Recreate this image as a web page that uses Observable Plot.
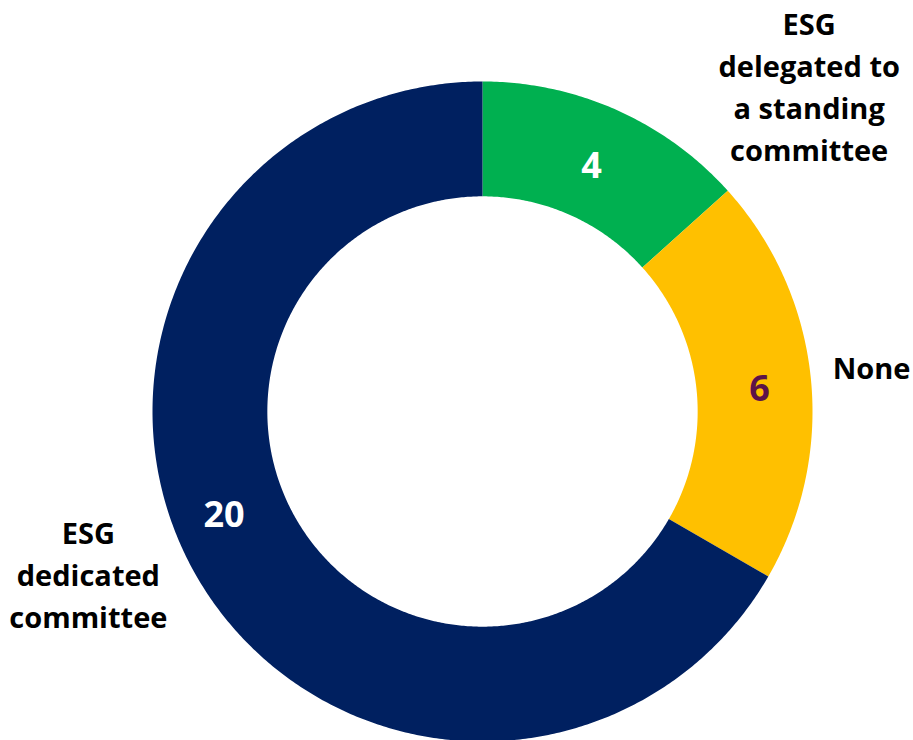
<!DOCTYPE html>
<html>
<head>
<meta charset="utf-8">
<script src="https://cdn.jsdelivr.net/npm/d3@7"></script>
<script src="https://cdn.jsdelivr.net/npm/@observablehq/plot@0.6"></script>
<style>
  html, body { margin: 0; padding: 0; background: #ffffff; }
  #chart svg { display: block; }
</style>
</head>
<body>
<div id="chart"></div>
<script>
// ---- data ----
const categories = ["ESG delegated to a standing committee", "None", "ESG dedicated committee"];
const values = [4, 6, 20];
const labelLines = [["ESG", "delegated to", "a standing", "committee"], ["None"], ["ESG", "dedicated", "committee"]];

// ---- style / layout ----
const sliceColors = ["#00B050", "#FFC000", "#002060"];
const valueColors = ["#ffffff", "#5C1349", "#ffffff"];
const innerRatio = 0.652;
const valueLabelRadius = [0.812, 0.842, 0.845];
const valueLabelShift = [0, 1.5, 8];        // degrees, manual nudges of the data labels
const catLabelShift = [21, -1.4, 7.8];      // degrees
const catLabelRadius = [1.40, 1.07, 1.29];
const catLabelAnchor = ["middle", "start", "middle"];
const fontFamily = "'Open Sans', 'Liberation Sans', sans-serif";

const W = 913, H = 740, R = 330, CX = 482, CY = 411;

const total = d3.sum(values);
let acc = 0;
const slices = values.map((v, i) => {
  const a0 = acc / total * 360;
  acc += v;
  const a1 = acc / total * 360;
  return {i, a0, a1, mid: (a0 + a1) / 2};
});
const polar = (r, deg) => {
  const t = deg * Math.PI / 180;
  return [r * Math.sin(t), r * Math.cos(t)];
};

function slicePoints(s) {
  const pts = [];
  const n = Math.max(2, Math.ceil((s.a1 - s.a0) / 0.5));
  for (let k = 0; k <= n; k++) {
    const a = s.a0 + (s.a1 - s.a0) * k / n;
    const [x, y] = polar(1, a);
    pts.push({x, y});
  }
  for (let k = n; k >= 0; k--) {
    const a = s.a0 + (s.a1 - s.a0) * k / n;
    const [x, y] = polar(innerRatio, a);
    pts.push({x, y});
  }
  pts.push(pts[0]);
  return pts;
}

const valueLabels = slices.map(s => {
  const [x, y] = polar(valueLabelRadius[s.i], s.mid + valueLabelShift[s.i]);
  return {x, y, text: String(values[s.i]), fill: valueColors[s.i]};
});
const catLabels = slices.map(s => {
  const [x, y] = polar(catLabelRadius[s.i], s.mid + catLabelShift[s.i]);
  return {x, y, text: labelLines[s.i].join("\n"), anchor: catLabelAnchor[s.i]};
});

const marks = [];
slices.forEach(s => {
  marks.push(Plot.line(slicePoints(s), {x: "x", y: "y", fill: sliceColors[s.i], stroke: "none", curve: "linear"}));
});
marks.push(Plot.text(valueLabels, {
  x: "x", y: "y", text: "text", fill: "fill",
  fontSize: 36, fontWeight: "bold", fontFamily
}));
["middle", "start"].forEach(anchor => {
  marks.push(Plot.text(catLabels.filter(d => d.anchor === anchor), {
    x: "x", y: "y", text: "text", fill: "#000000",
    textAnchor: anchor, lineHeight: 42 / 29,
    fontSize: 29, fontWeight: "bold", fontFamily
  }));
});

const chart = Plot.plot({
  width: W, height: H,
  margin: 0,
  x: {domain: [-CX / R, (W - CX) / R], range: [0, W], axis: null},
  y: {domain: [-(H - CY) / R, CY / R], range: [H, 0], axis: null},
  color: {type: "identity"},
  style: {background: "#ffffff", overflow: "visible"},
  marks
});
document.getElementById("chart").appendChild(chart);
</script>
</body>
</html>
